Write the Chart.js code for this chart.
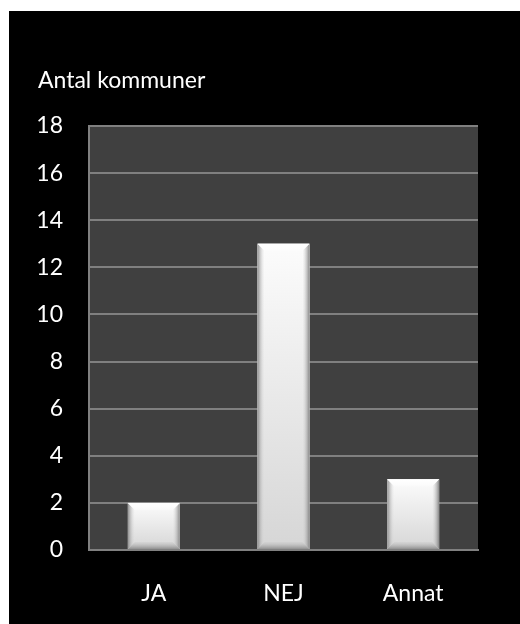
<!DOCTYPE html>
<html>
<head>
<meta charset="utf-8">
<script src="https://cdn.jsdelivr.net/npm/chart.js@4"></script>
<style>
  html, body { margin: 0; padding: 0; background: #ffffff; }
  #wrap { position: absolute; left: 9px; top: 11px; width: 511px; height: 613px; background: #000000; }
  canvas { display: block; }
</style>
</head>
<body>
<div id="wrap"><canvas id="c" width="511" height="613"></canvas></div>
<script>
const categories = ['JA', 'NEJ', 'Annat'];
const values = [2, 13, 3];
const yTitle = 'Antal kommuner';
const yMin = 0, yMax = 18, yStep = 2;

const FONT = 'Lato, "Open Sans", sans-serif';
const FSIZE = 23;

const bevelPlugin = {
  id: 'bevel',
  afterDatasetsDraw(chart) {
    const ctx = chart.ctx;
    chart.getDatasetMeta(0).data.forEach(el => {
      const w = el.width, x0 = el.x - w / 2, x1 = el.x + w / 2;
      const y0 = Math.min(el.y, el.base), y1 = Math.max(el.y, el.base);
      const h = y1 - y0, b = Math.min(7, h / 3);
      ctx.save();
      let g = ctx.createLinearGradient(0, y0, 0, y1);
      g.addColorStop(0, '#fcfcfc');
      g.addColorStop(1, '#d6d6d6');
      ctx.fillStyle = g;
      ctx.fillRect(x0, y0, w, h);
      g = ctx.createLinearGradient(x0, 0, x0 + b, 0);
      g.addColorStop(0, 'rgba(140,140,140,0.95)');
      g.addColorStop(1, 'rgba(220,220,220,0.0)');
      ctx.fillStyle = g;
      ctx.beginPath();
      ctx.moveTo(x0, y0); ctx.lineTo(x0 + b, y0 + b); ctx.lineTo(x0 + b, y1 - b); ctx.lineTo(x0, y1); ctx.closePath();
      ctx.fill();
      g = ctx.createLinearGradient(x1, 0, x1 - b, 0);
      g.addColorStop(0, 'rgba(130,130,130,0.95)');
      g.addColorStop(1, 'rgba(210,210,210,0.0)');
      ctx.fillStyle = g;
      ctx.beginPath();
      ctx.moveTo(x1, y0); ctx.lineTo(x1 - b, y0 + b); ctx.lineTo(x1 - b, y1 - b); ctx.lineTo(x1, y1); ctx.closePath();
      ctx.fill();
      g = ctx.createLinearGradient(0, y0, 0, y0 + b);
      g.addColorStop(0, 'rgba(255,255,255,1)');
      g.addColorStop(1, 'rgba(255,255,255,0.3)');
      ctx.fillStyle = g;
      ctx.beginPath();
      ctx.moveTo(x0, y0); ctx.lineTo(x1, y0); ctx.lineTo(x1 - b, y0 + b); ctx.lineTo(x0 + b, y0 + b); ctx.closePath();
      ctx.fill();
      g = ctx.createLinearGradient(0, y1, 0, y1 - b);
      g.addColorStop(0, 'rgba(140,140,140,0.95)');
      g.addColorStop(1, 'rgba(200,200,200,0.3)');
      ctx.fillStyle = g;
      ctx.beginPath();
      ctx.moveTo(x0, y1); ctx.lineTo(x1, y1); ctx.lineTo(x1 - b, y1 - b); ctx.lineTo(x0 + b, y1 - b); ctx.closePath();
      ctx.fill();
      ctx.restore();
    });
  }
};

const plotBg = {
  id: 'plotBg',
  beforeDraw(chart) {
    const a = chart.chartArea, ctx = chart.ctx;
    ctx.save();
    ctx.fillStyle = '#404040';
    ctx.fillRect(a.left, a.top, a.right - a.left, a.bottom - a.top);
    ctx.restore();
  }
};

new Chart(document.getElementById('c'), {
  type: 'bar',
  data: {
    labels: categories,
    datasets: [{
      data: values,
      backgroundColor: '#e6e6e6',
      borderWidth: 0,
      categoryPercentage: 1.0,
      barPercentage: 0.4
    }]
  },
  options: {
    responsive: false,
    animation: false,
    layout: { padding: { left: 29, right: 42, top: 0, bottom: 0 } },
    plugins: {
      legend: { display: false },
      tooltip: { enabled: false },
      title: {
        display: true,
        text: yTitle,
        align: 'start',
        color: '#ffffff',
        font: { family: FONT, size: FSIZE, weight: 'normal' },
        padding: { top: 56, bottom: 31.4 }
      }
    },
    scales: {
      x: {
        grid: { display: false, drawTicks: false },
        border: { display: true, color: '#808080', width: 2 },
        ticks: { color: '#ffffff', font: { family: FONT, size: FSIZE }, padding: 30 },
        afterFit(s) { s.height = 74; }
      },
      y: {
        min: yMin, max: yMax,
        grid: { color: '#808080', lineWidth: 2, drawTicks: false },
        border: { display: true, color: '#808080', width: 2 },
        ticks: { stepSize: yStep, color: '#ffffff', font: { family: FONT, size: FSIZE }, padding: 26 },
        afterFit(s) { s.width = 51; }
      }
    }
  },
  plugins: [plotBg, bevelPlugin]
});
</script>
</body>
</html>
